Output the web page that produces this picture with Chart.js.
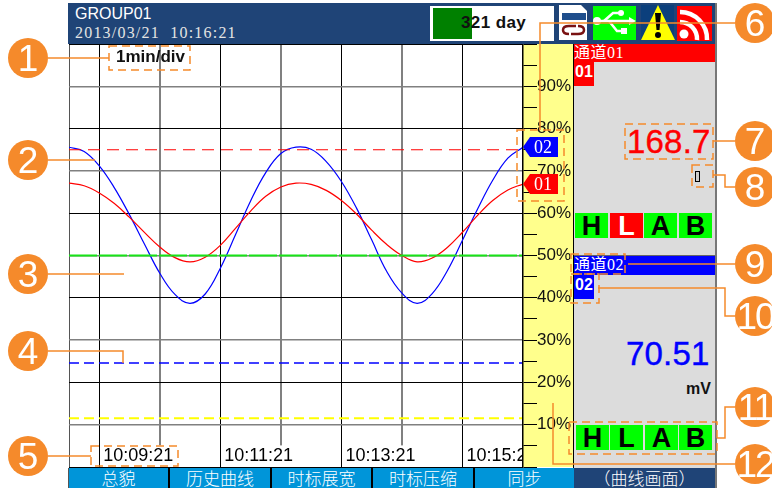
<!DOCTYPE html>
<html>
<head>
<meta charset="utf-8">
<script src="https://cdn.jsdelivr.net/npm/chart.js@4"></script>
<style>
html, body { margin: 0; padding: 0; background: #fff; width: 772px; height: 488px; overflow: hidden; }
body { font-family: "Liberation Sans", sans-serif; position: relative; }
.box { position: absolute; }
.serif { font-family: "Liberation Serif", "Noto Sans CJK SC", serif; }
#chartWrap { position: absolute; left: 68px; top: 44px; width: 506px; height: 424px; }
.flag { position: absolute; width: 33px; height: 25px; line-height: 26px; text-align: center; background: #00ff00; color: #000; font-weight: bold; font-size: 27px; }
.flag.on { background: #ff0000; color: #fff; }
.foot { position: absolute; top: 468px; height: 20px; line-height: 20px; text-align: center; color: #fff; font-size: 17px; font-family: "Noto Sans CJK SC", sans-serif; font-weight: 300; }
.badge { position: absolute; left: 574px; width: 20px; height: 24px; color: #fff; font-weight: bold; font-size: 16px; line-height: 19px; text-align: center; }
.chan { position: absolute; left: 574px; width: 141px; height: 18px; line-height: 18px; color: #fff; font-size: 16px; letter-spacing: 0.5px; white-space: nowrap; }
.reading { position: absolute; font-size: 33px; line-height: 40px; letter-spacing: 0.2px; -webkit-text-stroke: 0.4px currentColor; }
#overlay { position: absolute; left: 0; top: 0; }
</style>
</head>
<body>

<!-- header -->
<div class="box" style="left:68px;top:3px;width:648px;height:41px;background:#1f4477"></div>
<div class="box" style="left:75px;top:4px;color:#fff;font-size:16px;line-height:20px">GROUP01</div>
<div class="box serif" style="left:75px;top:23px;color:#e4e4e4;font-size:16px;line-height:19px;letter-spacing:1.2px;white-space:pre">2013/03/21  10:16:21</div>
<div class="box" style="left:430px;top:6px;width:124px;height:35px;background:#fff"></div>
<div class="box" style="left:433px;top:8px;width:39px;height:31px;background:#008000"></div>
<div class="box" style="left:461px;top:13px;font-size:17px;line-height:20px;font-weight:bold;color:#111;letter-spacing:0.4px">321 day</div>

<!-- side panel -->
<div class="box" style="left:573px;top:44px;width:142px;height:424px;background:#dcdcdc;border-left:1px solid #000;box-sizing:border-box"></div>
<div class="box" style="left:715px;top:3px;width:2px;height:485px;background:#777"></div>
<div class="chan serif" style="top:44px;background:#ff0000">通道01</div>
<div class="badge" style="top:62px;background:#ff0000">01</div>
<div class="reading" style="left:627px;top:122px;color:#ff0000">168.7</div>
<div class="box" style="left:695px;top:171px;width:3px;height:9px;border:1.5px solid #000;background:#ccc"></div>
<div class="flag" style="left:575px;top:213px">H</div>
<div class="flag on" style="left:610px;top:213px">L</div>
<div class="flag" style="left:644px;top:213px">A</div>
<div class="flag" style="left:679px;top:213px">B</div>

<div class="box" style="left:574px;top:255px;width:141px;height:1px;background:#666"></div>
<div class="chan serif" style="top:256px;background:#0000ff;height:19px">通道02</div>
<div class="badge" style="top:275px;background:#0000ff">02</div>
<div class="reading" style="left:626px;top:334px;color:#0000ff">70.51</div>
<div class="box" style="left:686px;top:380px;font-size:16px;line-height:18px;font-weight:bold;color:#111">mV</div>
<div class="flag" style="left:576px;top:425px">H</div>
<div class="flag" style="left:610px;top:425px">L</div>
<div class="flag" style="left:645px;top:425px">A</div>
<div class="flag" style="left:679px;top:425px">B</div>

<!-- footer -->
<div class="box" style="left:69px;top:468px;width:505px;height:20px;background:#0095d9"></div>
<div class="box" style="left:574px;top:468px;width:141px;height:20px;background:#1f4477"></div>
<div class="box" style="left:68px;top:468px;width:1px;height:20px;background:#555"></div>
<div class="box" style="left:168px;top:468px;width:2px;height:20px;background:#000"></div>
<div class="box" style="left:270px;top:468px;width:2px;height:20px;background:#000"></div>
<div class="box" style="left:371px;top:468px;width:2px;height:20px;background:#000"></div>
<div class="box" style="left:473px;top:468px;width:2px;height:20px;background:#000"></div>
<div class="foot" style="left:69px;width:99px">总貌</div>
<div class="foot" style="left:170px;width:100px">历史曲线</div>
<div class="foot" style="left:272px;width:99px">时标展宽</div>
<div class="foot" style="left:373px;width:100px">时标压缩</div>
<div class="foot" style="left:475px;width:99px">同步</div>
<div class="foot" style="left:574px;width:141px">（曲线画面）</div>

<div id="chartWrap"><canvas id="trendChart" width="506" height="424"></canvas></div>

<div class="box" style="left:116px;top:47px;font-size:17px;line-height:20px;font-weight:bold;color:#111">1min/div</div>

<svg id="overlay" width="772" height="488" xmlns="http://www.w3.org/2000/svg" font-family="Liberation Sans, sans-serif">
  <!-- status icons -->
  <path d="M559 5 H581 L587 11 V40 H559 Z" fill="#fff"/>
  <rect x="562" y="13" width="24" height="7" fill="#1f4e8c"/>
  <g fill="none" stroke="#7a1212" stroke-width="2.5"><path d="M576 26 H569 Q563 26 563 30 Q563 34 569 34"/><path d="M571 34 H578 Q584 34 584 30 Q584 26 578 26"/></g>
  <rect x="593" y="6" width="43" height="34" fill="#00ff00"/>
  <g fill="none" stroke="#fff" stroke-width="2.5"><path d="M596 21 H631"/><path d="M604 21 L613 13 H619"/><path d="M609 21 L617 31 H622"/></g>
  <circle cx="597" cy="21" r="4" fill="#fff"/><circle cx="621" cy="13" r="3" fill="#fff"/><rect x="621" y="28" width="6" height="6" fill="#fff"/><path d="M629 17 L636 21 L629 25 Z" fill="#fff"/>
  <rect x="641" y="5" width="33" height="35" fill="#0b3f7c"/>
  <path d="M658 5 L675 40 H641 Z" fill="#ffff00"/>
  <path d="M655 13 H661 L659.5 30 H656.5 Z" fill="#000"/><circle cx="658" cy="35" r="3" fill="#000"/>
  <rect x="677" y="6" width="35" height="35" fill="#ff0000"/>
  <circle cx="684" cy="34" r="4.5" fill="#fff"/>
  <g fill="none" stroke="#fff" stroke-width="4.5"><path d="M680 22 A17 17 0 0 1 697 40"/><path d="M680 12 A27 27 0 0 1 707 40"/></g>

  <!-- callout frames -->
  <g fill="none" stroke="#f58a2b" stroke-width="1.5" stroke-dasharray="8 5">
    <rect x="109" y="46" width="81" height="24"/>
    <rect x="91" y="446" width="87" height="20"/>
    <rect x="517" y="130" width="47" height="71"/>
    <rect x="625" y="124" width="88" height="35"/>
    <rect x="692" y="165" width="21" height="22"/>
    <rect x="571" y="254" width="54" height="20"/>
    <rect x="571" y="274" width="28" height="29"/>
    <rect x="569" y="422" width="148" height="32"/>
  </g>
  <!-- callout leaders -->
  <g fill="none" stroke="#f58a2b" stroke-width="1.5">
    <path d="M48 58 H109"/>
    <path d="M48 160 H95"/>
    <path d="M48 274 H124"/>
    <path d="M48 351 H123 V363"/>
    <path d="M48 456 H91"/>
    <path d="M735 23 H540 V130"/>
    <path d="M735 141 H713"/>
    <path d="M735 187 H725 V175 H713"/>
    <path d="M735 264 H628"/>
    <path d="M735 316 H725 V288 H598"/>
    <path d="M735 407 H725 V438 H717"/>
    <path d="M735 464 H553 V403"/>
  </g>
  <!-- callout numbers -->
  <g fill="#f58a2b">
    <circle cx="28" cy="58" r="20"/><circle cx="28" cy="160" r="20"/><circle cx="28" cy="274" r="20"/>
    <circle cx="28" cy="351" r="20"/><circle cx="28" cy="456" r="20"/>
    <circle cx="755" cy="23" r="20"/><circle cx="755" cy="141" r="20"/><circle cx="755" cy="187" r="20"/>
    <circle cx="755" cy="264" r="20"/><circle cx="755" cy="316" r="20"/><circle cx="755" cy="407" r="20"/><circle cx="755" cy="464" r="20"/>
  </g>
  <g fill="#fff" font-size="37" text-anchor="middle">
    <text x="28" y="71">1</text><text x="28" y="173">2</text><text x="28" y="287">3</text>
    <text x="28" y="364">4</text><text x="28" y="469">5</text>
    <text x="755" y="36">6</text><text x="755" y="154">7</text><text x="755" y="200">8</text>
    <text x="755" y="277">9</text><text x="755" y="329" letter-spacing="-2">10</text><text x="755" y="420" letter-spacing="-2">11</text><text x="755" y="477" letter-spacing="-2">12</text>
  </g>
</svg>

<script>
// minutes after 10:09:21, read every quarter minute off the trend
const minutes = [-0.5, -0.25, 0, 0.25, 0.5, 0.75, 1, 1.25, 1.5, 1.75, 2, 2.25, 2.5, 2.75, 3, 3.25,
    3.5, 3.75, 4, 4.25, 4.5, 4.75, 5, 5.25, 5.5, 5.75, 6, 6.25, 6.5, 6.75, 7];
const channel01 = [67.1, 66.5, 64.8, 62.3, 59.0, 55.4, 52.0, 49.5, 48.5, 49.6, 52.4, 56.4, 60.5, 64.0, 66.2, 67.1,
    66.8, 65.4, 63.0, 59.8, 56.0, 52.6, 50.0, 48.5, 49.4, 51.9, 55.5, 59.5, 63.0, 65.5, 66.9];
const channel02 = [75.6, 74.6, 71.2, 66.0, 59.6, 52.6, 45.8, 40.8, 38.7, 40.9, 47.0, 54.9, 62.9, 69.6, 74.1, 75.6,
    75.1, 72.2, 67.5, 61.2, 53.7, 46.2, 41.1, 38.7, 41.0, 46.4, 53.6, 61.0, 67.8, 73.0, 75.6];

// alarm / reference levels in percent
const levelRange = [-0.5, 7];
const levelHigh = 75;
const levelMid = 50;
const levelLow = 24.6;
const levelLowLow = 11.5;

// one division per minute, the axis starts half a division before the first label
const gridMinutes = [-0.5, 0, 1, 2, 3, 4, 5, 6, 7];
const timeTicks = [0, 2, 4, 6];
const timeLabels = ['10:09:21', '10:11:21', '10:13:21', '10:15:21'];

const gridBlack = '#000000';
const gridGray = '#808080';

function levelLine(value, color, width, dash) {
    return {
        data: levelRange.map(m => ({ x: m, y: value })),
        borderColor: color,
        borderWidth: width,
        borderDash: dash,
        pointRadius: 0
    };
}

function curve(values, color) {
    return {
        data: minutes.map((m, i) => ({ x: m, y: values[i] })),
        borderColor: color,
        borderWidth: 1.2,
        pointRadius: 0,
        tension: 0.4
    };
}

// channel tags at the right edge of the trend, following the last value
const channelTags = {
    id: 'channelTags',
    afterDraw(chart) {
        const c = chart.ctx;
        const right = chart.chartArea.right;
        const y = chart.scales.y;
        [['02', channel02, '#0000ff'], ['01', channel01, '#ff0000']].forEach(([name, values, color]) => {
            const py = Math.round(y.getPixelForValue(values[values.length - 1]));
            c.save();
            c.fillStyle = color;
            c.beginPath();
            c.moveTo(right, py);
            c.lineTo(right + 7, py - 10);
            c.lineTo(right + 35, py - 10);
            c.lineTo(right + 35, py + 10);
            c.lineTo(right + 7, py + 10);
            c.closePath();
            c.fill();
            c.fillStyle = '#fff';
            c.font = '18px "Liberation Serif"';
            c.textAlign = 'center';
            c.textBaseline = 'middle';
            c.fillText(name, right + 20, py + 1);
            c.restore();
        });
    }
};

new Chart(document.getElementById('trendChart').getContext('2d'), {
    type: 'line',
    data: {
        datasets: [
            levelLine(levelHigh, '#ff0000', 1, [12, 7]),
            levelLine(levelMid, '#17e317', 2, [28, 2]),
            levelLine(levelLow, '#0000ff', 1.5, [10, 5]),
            levelLine(levelLowLow, '#ffff00', 2, [10, 5]),
            curve(channel01, '#ff0000'),
            curve(channel02, '#0000ff')
        ]
    },
    options: {
        responsive: false,
        animation: false,
        events: [],
        layout: { padding: { left: 1, right: 1, top: 0, bottom: 1 } },
        plugins: { legend: { display: false }, tooltip: { enabled: false } },
        scales: {
            x: {
                type: 'linear',
                min: -0.5,
                max: 7,
                afterBuildTicks(scale) {
                    scale.ticks = gridMinutes.map(value => ({ value }));
                },
                afterFit(scale) {
                    scale.height = 0;
                    scale.paddingLeft = 0;
                    scale.paddingRight = 0;
                },
                grid: {
                    drawTicks: false,
                    color: ctx => (ctx.tick.value === -0.5 ? '#555555' : (ctx.tick.value % 2 === 0 ? gridBlack : gridGray)),
                    lineWidth: ctx => (ctx.tick.value % 2 === 0 || ctx.tick.value === -0.5 ? 1 : 2)
                },
                border: { display: false },
                ticks: {
                    autoSkip: false,
                    maxRotation: 0,
                    align: 'start',
                    mirror: true, // keeps the labels inside the plot, axis height is 0
                    padding: 0,
                    labelOffset: 4,
                    color: '#000',
                    font: { family: 'Liberation Sans', size: 18 },
                    showLabelBackdrop: true,
                    backdropColor: ctx => (ctx.tick.label ? '#ffffff' : 'transparent'),
                    backdropPadding: { left: 3, right: 1, top: 0, bottom: 0 },
                    callback: value => {
                        const i = timeTicks.indexOf(value);
                        return i >= 0 ? timeLabels[i] : '';
                    }
                }
            },
            y: {
                position: 'left',
                min: 0,
                max: 100,
                afterFit(scale) {
                    scale.width = 0;
                    scale.paddingTop = 0;
                    scale.paddingBottom = 0;
                },
                grid: {
                    drawTicks: false,
                    color: ctx => (ctx.tick.value % 20 === 0 ? gridBlack : gridGray),
                    lineWidth: ctx => (ctx.tick.value % 20 === 0 ? 1 : 1.5)
                },
                border: { display: false },
                ticks: { display: false, stepSize: 10 }
            },
            yPercent: {
                position: 'right',
                min: 0,
                max: 100,
                backgroundColor: '#ffff8c',
                afterFit(scale) {
                    scale.width = 50;
                    scale.paddingTop = 0;
                    scale.paddingBottom = 0;
                },
                grid: {
                    z: 1,
                    drawOnChartArea: false,
                    tickColor: '#000',
                    tickLength: 14,
                    lineWidth: 1
                },
                border: { display: true, color: '#000', width: 1.5, z: 1 },
                ticks: {
                    z: 2,
                    stepSize: 5,
                    autoSkip: false,
                    padding: 0,
                    color: '#111',
                    font: { family: 'Liberation Sans', size: 17 },
                    callback: value => (value % 10 === 0 && value > 0 && value < 100 ? value + '%' : '')
                }
            }
        }
    },
    plugins: [channelTags]
});
</script>
</body>
</html>
